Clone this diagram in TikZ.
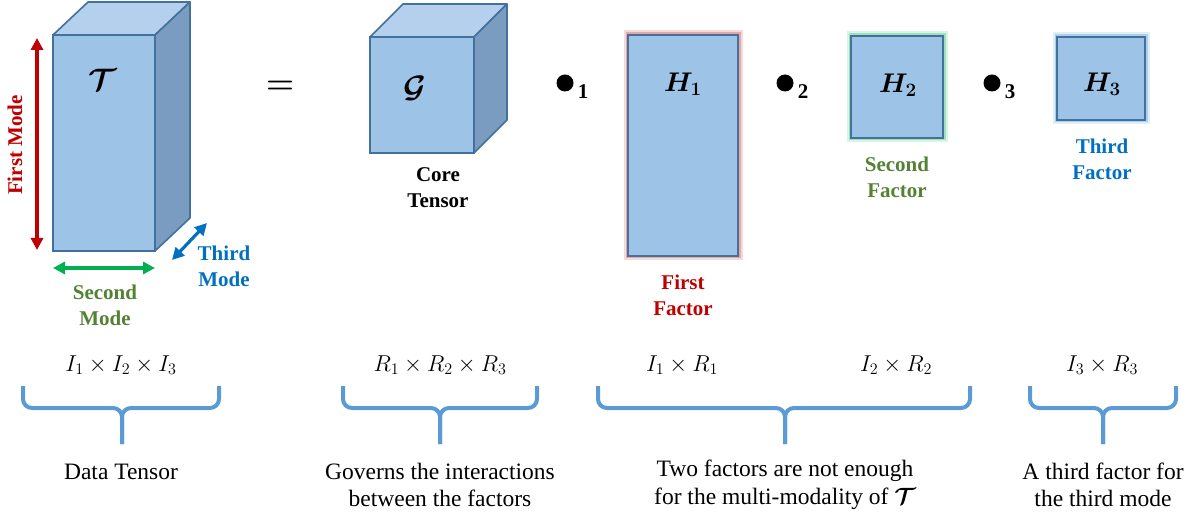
\RequirePackage{fix-cm}
\documentclass[tikz,border=0pt]{standalone}
\usepackage{fontspec}
\setmainfont{Liberation Serif}
\usepackage{amsmath}
\usepackage{bm}
\usetikzlibrary{arrows.meta,positioning,calc}
\definecolor{TensFront}{HTML}{9DC3E6}
\definecolor{TensTop}{HTML}{B5D0EC}
\definecolor{TensSide}{HTML}{7A9CC0}
\definecolor{TensEdge}{HTML}{41719C}
\definecolor{ModeRed}{HTML}{C00000}
\definecolor{ModeGreen}{HTML}{00B050}
\definecolor{LabelGreen}{HTML}{548235}
\definecolor{ModeBlue}{HTML}{0070C0}
\definecolor{BraceBlue}{HTML}{5B9BD5}
\tikzset{
  face/.style={draw=TensEdge, line width=1.6pt, fill=TensFront, outer sep=0pt, inner sep=0pt},
  topface/.style={draw=TensEdge, line width=1.6pt, fill=TensTop, line join=round},
  sideface/.style={draw=TensEdge, line width=1.6pt, fill=TensSide, line join=round},
  redglow/.style={preaction={draw=ModeRed!15, line width=9pt}, preaction={draw=ModeRed!35, line width=5pt}},
  greenglow/.style={preaction={draw=ModeGreen!15, line width=9pt}, preaction={draw=ModeGreen!38, line width=5pt}},
  blueglow/.style={preaction={draw=ModeBlue!12, line width=9pt}, preaction={draw=ModeBlue!32, line width=5pt}},
  symbol/.style={font=\fontsize{27}{30}\selectfont},
  calsymbol/.style={font=\fontsize{31}{34}\selectfont},
  modelabel/.style={font=\fontsize{21}{26}\selectfont\bfseries, align=center},
  dims/.style={font=\fontsize{23}{26}\selectfont},
  note/.style={font=\fontsize{23.5}{27.5}\selectfont, align=center},
  curly/.style={draw=BraceBlue, line width=4pt, rounded corners=9pt},
  modearrow/.style={{Triangle[length=12pt,width=12pt]}-{Triangle[length=12pt,width=12pt]}, line width=3.2pt},
  opdot/.style={circle, fill=black, minimum size=17pt, inner sep=0pt},
  opsub/.style={font=\fontsize{21}{21}\selectfont\bfseries, inner sep=0pt, anchor=north west}
}
\begin{document}
\begin{tikzpicture}[x=1pt, y=-1pt]
  \useasboundingbox (0,0) rectangle (1199,518);
  % data tensor
  \node[face, minimum width=102pt, minimum height=216pt] (T) at (104,143) {};
  \draw[topface] (T.north west) -- ++(35,-33) -- ++(102,0) -- (T.north east) -- cycle;
  \draw[sideface] (T.north east) -- ++(35,-33) -- ++(0,216) -- (T.south east) -- cycle;
  \node[calsymbol] (Tsym) at (103,80) {$\bm{\mathcal{T}}$};
  \coordinate (firsttop) at ($(T.north west)+(-16,3)$);
  \coordinate (firstbot) at ($(T.south west)+(-16,-1)$);
  \draw[modearrow, ModeRed] (firsttop) -- (firstbot);
  \coordinate (secondleft) at ($(T.south west)+(0,17)$);
  \coordinate (secondright) at ($(T.south east)+(0,17)$);
  \draw[modearrow, ModeGreen] (secondleft) -- (secondright);
  \coordinate (thirdnear) at ($(T.south east)+(17,9)$);
  \coordinate (thirdfar) at ($(T.south east)+(52,-28)$);
  \draw[modearrow, ModeBlue] (thirdnear) -- (thirdfar);
  \node[modelabel, text=ModeRed, rotate=90] (firstmode) at (15,145) {First Mode};
  \node[modelabel, text=LabelGreen] (secondmode) at (105,305) {Second\\Mode};
  \node[modelabel, text=ModeBlue] (thirdmode) at (224,266) {Third\\Mode};
  \node[font=\fontsize{32}{32}\selectfont] (eq) at (280,87) {$\bm{=}$};
  % core tensor
  \node[face, minimum width=104pt, minimum height=116pt] (G) at (422,95) {};
  \draw[topface] (G.north west) -- ++(33,-33) -- ++(104,0) -- (G.north east) -- cycle;
  \draw[sideface] (G.north east) -- ++(33,-33) -- ++(0,116) -- (G.south east) -- cycle;
  \node[calsymbol] (Gsym) at (415,88) {$\bm{\mathcal{G}}$};
  \node[modelabel] (core) at (438,188) {Core\\Tensor};
  % factors
  \node[opdot] (dot1) at (565,83) {};
  \node[opsub] (sub1) at ($(dot1.east)+(4,1)$) {1};
  \node[face, redglow, minimum width=110pt, minimum height=221pt] (H1) at (683,145.5) {};
  \node[symbol] (H1sym) at (683,84) {$\bm{H_1}$};
  \node[modelabel, text=ModeRed] (firstfactor) at (683,295) {First\\Factor};
  \node[opdot] (dot2) at (785,83) {};
  \node[opsub] (sub2) at ($(dot2.east)+(4,1)$) {2};
  \node[face, greenglow, minimum width=92pt, minimum height=102pt] (H2) at (897,87) {};
  \node[symbol] (H2sym) at (898,85) {$\bm{H_2}$};
  \node[modelabel, text=LabelGreen] (secondfactor) at (897,177) {Second\\Factor};
  \node[opdot] (dot3) at (992,83) {};
  \node[opsub] (sub3) at ($(dot3.east)+(4,1)$) {3};
  \node[face, blueglow, minimum width=88pt, minimum height=83pt] (H3) at (1101,78.5) {};
  \node[symbol] (H3sym) at (1102,84) {$\bm{H_3}$};
  \node[modelabel, text=ModeBlue] (thirdfactor) at (1102,159) {Third\\Factor};
  % sizes and braces
  \node[dims] (dimT) at (121,365) {$I_1\times I_2\times I_3$};
  \node[dims] (dimG) at (440,365) {$R_1\times R_2\times R_3$};
  \node[dims] (dimH1) at (682,365) {$I_1\times R_1$};
  \node[dims] (dimH2) at (896,365) {$I_2\times R_2$};
  \node[dims] (dimH3) at (1102,365) {$I_3\times R_3$};
  \coordinate (bla) at (23,386);   \coordinate (bma) at (122,408);  \coordinate (bra) at (219,386);  \coordinate (bta) at (122,444);
  \coordinate (blb) at (343,386);  \coordinate (bmb) at (440,408);  \coordinate (brb) at (537,386);  \coordinate (btb) at (440,444);
  \coordinate (blc) at (598,386);  \coordinate (bmc) at (785,408);  \coordinate (brc) at (970,386);  \coordinate (btc) at (785,444);
  \coordinate (bld) at (1030,386); \coordinate (bmd) at (1103,408); \coordinate (brd) at (1176,386); \coordinate (btd) at (1103,444);
  \draw[curly] (bla) |- (bma) -- (bta);
  \draw[curly] (bra) |- (bma) -- (bta);
  \draw[curly] (blb) |- (bmb) -- (btb);
  \draw[curly] (brb) |- (bmb) -- (btb);
  \draw[curly] (blc) |- (bmc) -- (btc);
  \draw[curly] (brc) |- (bmc) -- (btc);
  \draw[curly] (bld) |- (bmd) -- (btd);
  \draw[curly] (brd) |- (bmd) -- (btd);
  \node[note] (datanote) at (121,472) {Data Tensor};
  \node[note] (corenote) at (440,485) {Governs the interactions\\between the factors};
  \node[note] (twonote) at (785,485) {Two factors are not enough\\for the multi-modality of \smash{$\bm{\mathcal{T}}$}};
  \node[note] (thirdnote) at (1103,485) {A third factor for\\the third mode};
\end{tikzpicture}
\end{document}
